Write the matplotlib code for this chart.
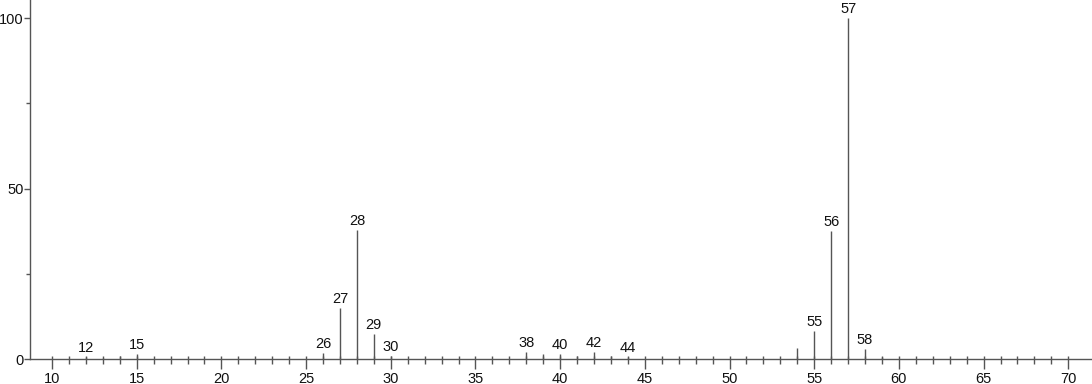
import numpy as np
import matplotlib.pyplot as plt
from matplotlib.ticker import MultipleLocator, FixedLocator, NullFormatter

plt.rcParams['font.family'] = ['Liberation Sans', 'DejaVu Sans']

# mass spectrum peaks (m/z, relative intensity)
mz = [12, 13, 14, 15, 26, 27, 28, 29, 30, 38, 39, 40, 41, 42, 43, 44, 54, 55, 56, 57, 58, 59]
intensity = [0.6, 0.4, 0.8, 1.6, 1.8, 15.0, 37.8, 7.2, 1.0, 2.0, 1.6, 1.5, 0.8, 2.0, 0.8, 0.6,
             3.3, 8.2, 37.6, 100.0, 2.8, 0.6]
labeled = [12, 15, 26, 27, 28, 29, 30, 38, 40, 42, 44, 55, 56, 57, 58]

fig = plt.figure(figsize=(10.92, 3.84), dpi=100)
ax = fig.add_axes([0.0275, 0.065, 0.9725, 0.935])

line_color = '#555555'
ax.vlines(mz, 0, intensity, color=line_color, linewidth=1.0)
for m, h in zip(mz, intensity):
    if m in labeled:
        ax.text(m, h + 0.6, str(m), ha='center', va='bottom', fontsize=10.5, color='#111111')

ax.set_xlim(8.7, 71.4)
ax.set_ylim(0, 105.3)

ax.xaxis.set_major_locator(MultipleLocator(5))
ax.xaxis.set_minor_locator(FixedLocator(np.arange(10, 71, 1)))
ax.yaxis.set_major_locator(MultipleLocator(50))
ax.yaxis.set_minor_locator(MultipleLocator(25))

ax.tick_params(axis='x', which='major', direction='out', length=7, width=1, colors=line_color,
               labelcolor='#111111', labelsize=10.5, pad=2)
ax.tick_params(axis='x', which='minor', direction='out', length=3.5, width=1, colors=line_color)
ax.tick_params(axis='y', which='major', direction='out', length=4.5, width=1, colors=line_color,
               labelcolor='#111111', labelsize=10.5, pad=0)
ax.tick_params(axis='y', which='minor', direction='out', length=3, width=1, colors=line_color)

# small upward part of every x tick
sec = ax.secondary_xaxis('bottom')
sec.xaxis.set_major_locator(FixedLocator(np.arange(10, 71, 1)))
sec.xaxis.set_major_formatter(NullFormatter())
sec.tick_params(axis='x', direction='in', length=2.5, width=1, colors=line_color)
sec.spines['bottom'].set_visible(False)

for side in ['top', 'right']:
    ax.spines[side].set_visible(False)
for side in ['left', 'bottom']:
    ax.spines[side].set_color(line_color)
    ax.spines[side].set_linewidth(1.0)

fig.savefig('out.png', dpi=100)
